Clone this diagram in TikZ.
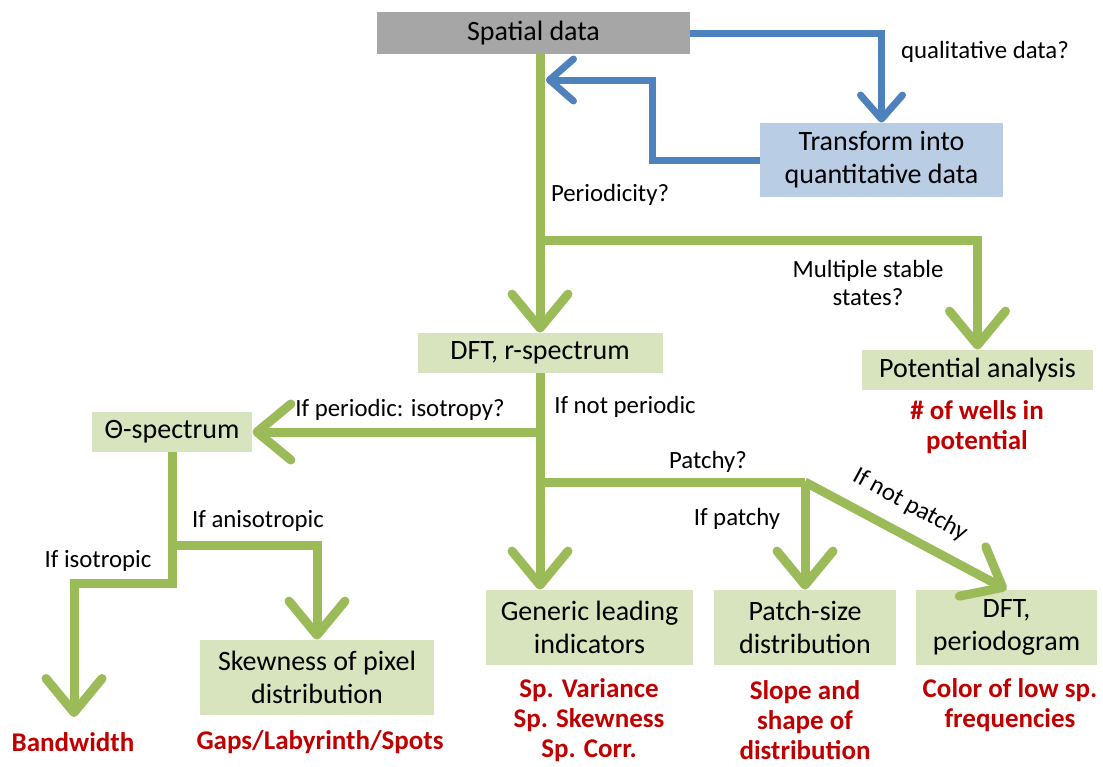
\documentclass[tikz,border=0pt]{standalone}
\usepackage{fontspec}
\setmainfont{Carlito}
\usetikzlibrary{arrows.meta}
\definecolor{lgrn}{HTML}{9BBB59}
\definecolor{boxgrn}{HTML}{D7E4BD}
\definecolor{lblu}{HTML}{4F81BD}
\definecolor{boxblu}{HTML}{B9CDE5}
\definecolor{boxgry}{HTML}{A6A6A6}
\definecolor{outred}{HTML}{C00000}
\tikzset{
  box/.style={fill=boxgrn,inner sep=0pt,align=center,font=\fontsize{14}{16.5}\selectfont},
  gline/.style={draw=lgrn,line width=4.5pt,-{Straight Barb[round,length=17pt,width=28pt]}},
  bline/.style={draw=lblu,line width=3.5pt,-{Straight Barb[round,length=12pt,width=21pt]}},
  lbl/.style={font=\fontsize{12.4}{14}\selectfont,align=center},
  res/.style={text=outred,font=\bfseries\fontsize{13.5}{15}\selectfont,align=center},
}
\begin{document}
\begin{tikzpicture}[x=0.5pt,y=-0.5pt]
\useasboundingbox (0,0) rectangle (1103,766);
% boxes
\node[box,fill=boxgry,minimum width=156.5pt,minimum height=21pt](spatial) at (533.5,33){Spatial data};
\node[box,fill=boxblu,minimum width=121.5pt,minimum height=37pt](trans) at (881.5,160){Transform into\\quantitative data};
\node[box,minimum width=122.5pt,minimum height=20pt](dft) at (540,353){DFT, r-spectrum};
\node[box,minimum width=115.5pt,minimum height=20pt](pot) at (977.5,370){Potential analysis};
\node[box,minimum width=80pt,minimum height=20pt](theta) at (172,432){Θ-spectrum};
\node[box,minimum width=117pt,minimum height=37.5pt](skew) at (317,677.5){Skewness of pixel\\distribution};
\node[box,minimum width=103.5pt,minimum height=37.5pt](gen) at (589.5,627.5){Generic leading\\indicators};
\node[box,minimum width=91pt,minimum height=37.5pt](patch) at (805,627.5){Patch-size\\distribution};
\node[box,minimum width=90.5pt,minimum height=37.5pt](peri) at (1006.5,627.5){DFT,\\periodogram};
% results
\node[res](wells) at (977,427){\# of wells in\\potential};
\node[res](bw) at (73,742){Bandwidth};
\node[res](gaps) at (320,742){Gaps/Labyrinth/Spots};
\node[res](sp) at (589,720){Sp. Variance\\Sp. Skewness\\Sp. Corr.};
\node[res](slope) at (805,720){Slope and\\shape of\\distribution};
\node[res](col) at (1010,705){Color of low sp.\\frequencies};
% branch points
\coordinate(b1) at (540,240);
\coordinate(b2) at (540,432);
\coordinate(b3) at (540,482);
\coordinate(b4) at (805,482);
\coordinate(b5) at (172,545);
\coordinate(iso) at (74,583);
\coordinate(isoend) at (74,717);
\coordinate(rbend) at (652,80);
\coordinate(ret) at (546,80);
% blue loop
\draw[bline](spatial.east)-|(trans.north);
\draw[bline](trans.west)-|(rbend)--(ret);
% green tree
\draw[gline](spatial.south-|dft.north)--(dft.north);
\draw[gline](b1)-|(pot.north);
\draw[gline](dft.south)--(dft.south|-gen.north);
\draw[gline](b2)--(theta.east);
\draw[gline,-](b3)--(b4);
\draw[gline](b4)--(patch.north);
\draw[gline](b4)--(peri.north);
\draw[gline](theta.south)|-(iso)--(isoend);
\draw[gline](b5)-|(skew.north);
% labels
\node[lbl](qqual) at (985,52){qualitative data?};
\node[lbl](qper) at (610,195){Periodicity?};
\node[lbl](qmult) at (868,283){Multiple stable\\states?};
\node[lbl](qiso) at (400,410){If periodic: isotropy?};
\node[lbl](qnper) at (625,407){If not periodic};
\node[lbl](qpat) at (708,462){Patchy?};
\node[lbl](qyes) at (737,519){If patchy};
\node[lbl,rotate=-28.5](qno) at (910,505){If not patchy};
\node[lbl](qani) at (258,521){If anisotropic};
\node[lbl](qisot) at (98,561){If isotropic};
\end{tikzpicture}
\end{document}
